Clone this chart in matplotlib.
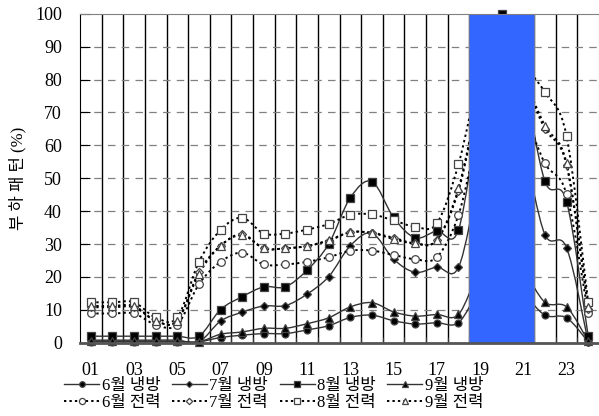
import numpy as np
import matplotlib
matplotlib.use("Agg")
import matplotlib.pyplot as plt
from matplotlib.path import Path
from matplotlib.patches import PathPatch
from matplotlib.lines import Line2D

plt.rcParams['font.family'] = ['Liberation Serif', 'Noto Sans CJK KR']

hours = list(range(1, 25))
tick_labels = [f"{h:02d}" for h in hours]

# 냉방 (cooling) load pattern, %
jun_cool = [0.3, 0.3, 0.3, 0.3, 0.3, 0.3, 1.6, 2.3, 2.8, 2.8, 3.9, 5.2,
            7.7, 8.4, 6.7, 5.7, 6.1, 6.1, 16, 20, 15, 8.4, 7.6, 0.3]
jul_cool = [0.8, 0.8, 0.8, 0.8, 0.8, 0.3, 6.6, 9.3, 11.2, 11.3, 14.8, 20.1,
            29.5, 33.3, 25.4, 21.4, 23.0, 22.9, 50, 65, 58, 32.9, 28.9, 0.3]
aug_cool = [2.0, 2.0, 2.0, 2.0, 2.0, 2.0, 10.1, 14.0, 17.0, 17.0, 22.1, 30.0,
            44.1, 49.0, 38.1, 31.9, 34.0, 34.3, 72, 100, 80, 49.1, 42.9, 2.0]
sep_cool = [0.5, 0.5, 0.5, 0.5, 0.5, 0.3, 2.6, 3.3, 4.4, 4.4, 5.8, 7.6,
            10.9, 12.2, 9.4, 8.1, 8.6, 8.6, 22, 28, 22, 12.3, 10.9, 0.5]

# 전력 (power) load pattern, %
jun_pow = [8.9, 8.9, 8.9, 5.5, 5.5, 17.8, 24.6, 27.4, 23.8, 23.8, 24.6, 26.0,
           28.0, 28.0, 26.7, 25.4, 26.0, 38.8, 65, 78, 70, 54.5, 45.1, 8.9]
jul_pow = [10.8, 10.8, 10.8, 6.7, 6.7, 21.6, 29.5, 33.0, 28.7, 28.7, 29.4, 31.0,
           33.6, 33.4, 31.9, 30.2, 31.2, 46.2, 74, 87, 79, 65.0, 54.0, 10.4]
aug_pow = [12.3, 12.3, 12.3, 7.7, 7.7, 24.6, 34.3, 38.0, 33.2, 33.2, 34.4, 36.1,
           38.9, 39.0, 37.2, 35.3, 36.3, 54.2, 82, 97, 85, 76.1, 62.8, 12.3]
sep_pow = [11.2, 11.2, 11.2, 6.7, 6.7, 21.0, 29.5, 32.7, 28.7, 28.7, 29.4, 31.2,
           33.6, 33.4, 31.5, 30.2, 31.2, 46.9, 75, 88, 80, 65.9, 54.5, 10.9]

series = [
    ("6월 냉방", jun_cool, 'o', 5, True),
    ("7월 냉방", jul_cool, 'D', 3.8, True),
    ("8월 냉방", aug_cool, 's', 6, True),
    ("9월 냉방", sep_cool, '^', 5.5, True),
    ("6월 전력", jun_pow, 'o', 5.5, False),
    ("7월 전력", jul_pow, 'D', 4, False),
    ("8월 전력", aug_pow, 's', 6, False),
    ("9월 전력", sep_pow, '^', 5.5, False),
]

dot_style = (0, (1.2, 1.6))


def smooth_path(x, y):
    # Catmull-Rom style smoothing like a spreadsheet "smoothed line"
    pts = np.column_stack([x, y]).astype(float)
    n = len(pts)
    verts = [pts[0]]
    codes = [Path.MOVETO]
    for i in range(n - 1):
        p0 = pts[i - 1] if i > 0 else pts[i]
        p1 = pts[i]
        p2 = pts[i + 1]
        p3 = pts[i + 2] if i + 2 < n else pts[i + 1]
        c1 = p1 + (p2 - p0) / 6.0
        c2 = p2 - (p3 - p1) / 6.0
        verts += [c1, c2, p2]
        codes += [Path.CURVE4] * 3
    return Path(verts, codes)


fig = plt.figure(figsize=(5.99, 4.16), dpi=100)
ax = fig.add_axes([0.1336, 0.176, 0.8664, 0.791])

ax.set_xlim(0.5, 24.5)
ax.set_ylim(0, 100)

# grid drawn by hand so the bar can cover it while ticks stay on top
for b in np.arange(1.5, 24.5, 1.0):
    ax.axvline(b, color='black', lw=1.0, zorder=1)
for v in range(10, 100, 10):
    ax.axhline(v, color='#808080', lw=0.9, ls=(0, (6, 5)), zorder=1)

handles = []
for label, vals, mk, ms, cool in series:
    ls = '-' if cool else dot_style
    lc = '#333333' if cool else 'black'
    lw = 1.0 if cool else 1.4
    patch = PathPatch(smooth_path(hours, vals), fill=False, edgecolor=lc,
                      lw=lw, ls=ls, zorder=2.0)
    ax.add_patch(patch)
    fc = 'black' if cool else 'white'
    ax.plot(hours, vals, ls='none', marker=mk, ms=ms, mfc=fc, mec='#444444',
            mew=0.9, zorder=2.1, clip_on=False)
    handles.append(Line2D([], [], color=lc, lw=lw, ls=ls, marker=mk,
                          ms=ms * 0.8, mfc=fc, mec='#444444', mew=0.9))

# masked block over hours 19-21
ax.bar([20], [100], width=3, color='#3366ff', edgecolor='#7f8fbf', lw=0.5,
       zorder=2.2)

ax.set_xticks(np.arange(1.5, 24.5, 1.0), minor=False)
ax.set_xticklabels([])
ax.set_xticks(hours[::2], minor=True)
ax.set_xticklabels(tick_labels[::2], minor=True, fontsize=13)
ax.tick_params(axis='x', which='major', direction='in', length=4,
               color='#333333')
ax.tick_params(axis='x', which='minor', length=0, pad=14)
ax.set_yticks(range(0, 101, 10))
ax.tick_params(axis='y', direction='in', length=7, labelsize=13, pad=13)

for side in ['top', 'right']:
    ax.spines[side].set_color('#808080')
ax.spines['bottom'].set_color('#555555')
ax.spines['bottom'].set_linewidth(2)
ax.spines['left'].set_color('black')

ax.set_ylabel("부 하 패 턴 (%)", fontsize=12, labelpad=6)

# legend fills row by row: 냉방 on top, 전력 below
order = [0, 4, 1, 5, 2, 6, 3, 7]
fig.legend(handles=[handles[i] for i in order],
           labels=[series[i][0] for i in order], ncol=4,
           loc='center', bbox_to_anchor=(0.457, 0.052), frameon=False,
           fontsize=12, handlelength=2.1, handletextpad=0.15,
           columnspacing=0.7, labelspacing=0.08, borderpad=0.1)

fig.savefig("out.png", dpi=100)
